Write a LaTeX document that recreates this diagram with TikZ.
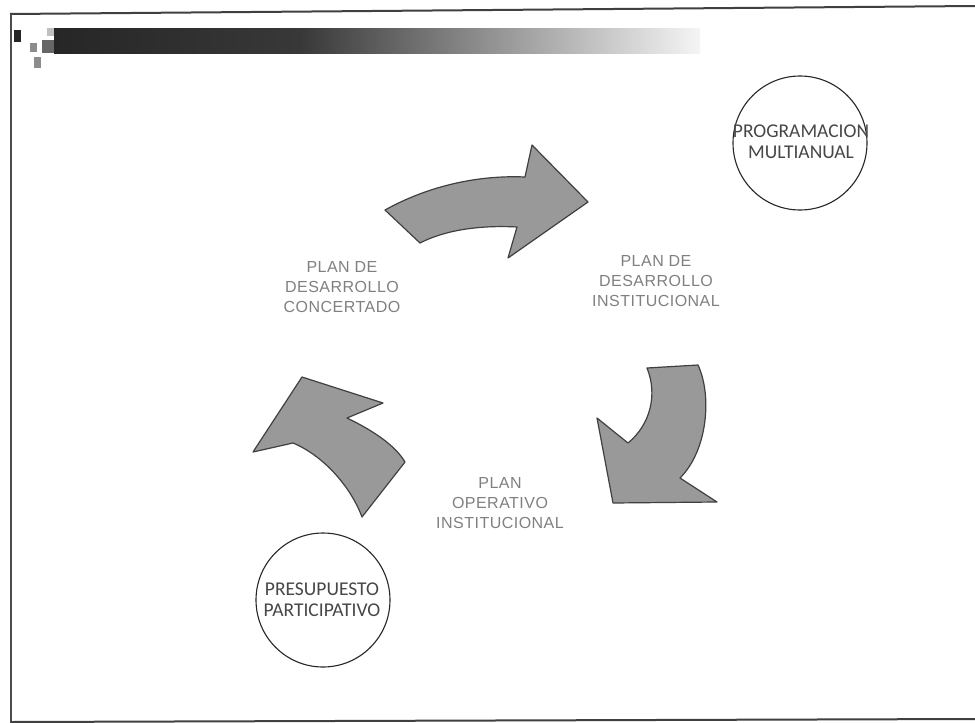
\documentclass[tikz,border=0pt]{standalone}
\usepackage{fontspec}
\setmainfont{Liberation Sans}
\newfontfamily\calfont{Carlito}
\newfontfamily\planfont[LetterSpace=3]{Liberation Sans}
\begin{document}
\begin{tikzpicture}[x=1pt,y=-1pt,
  framel/.style={draw=black!75, line width=2pt},
  cyclearrow/.style={fill=black!40, draw=black!75, line width=1.2pt, line join=round},
  plantext/.style={align=center, text=black!50, inner sep=0pt,
    font=\planfont\fontsize{16}{20}\selectfont},
  circnode/.style={circle, draw=black!85, line width=1.1pt, minimum size=134pt, inner sep=0pt},
  circtext/.style={align=center, text=black!72, inner sep=0pt,
    font=\calfont\fontsize{19.5}{21}\selectfont}
]
\useasboundingbox (0,0) rectangle (975,723);
\fill[white] (0,0) rectangle (975,723);
% frame
\draw[framel] (10,14) -- (975,6);
\draw[draw=black!70, line width=1.4pt] (11,14) -- (11,723);
\draw[framel] (11,722) -- (975,719);
% header decoration
\fill[black!85] (14,30) rectangle (21,42);
\fill[black!25] (47,28) rectangle (54,36);
\shade[left color=black!85, right color=black!78] (54,28) rectangle (300,53);
\shade[left color=black!78, right color=black!30] (300,28) rectangle (560,53);
\shade[left color=black!30, right color=black!4] (560,28) rectangle (700,53);
\fill[black!60] (42,40) rectangle (54,53);
\fill[black!45] (30,43) rectangle (37,52);
\fill[black!45] (34,57) rectangle (41,68);
% circles
\node[circnode] (prog) at (800,143) {};
\node[circtext] (progt) at (801,142) {PROGRAMACION\\MULTIANUAL};
\node[circnode] (pres) at (323,600) {};
\node[circtext] (prest) at (322,600) {PRESUPUESTO\\PARTICIPATIVO};
% texts
\node[plantext] (pdc) at (342,287) {PLAN DE\\DESARROLLO\\CONCERTADO};
\node[plantext] (pdi) at (656,281) {PLAN DE\\DESARROLLO\\INSTITUCIONAL};
\node[plantext] (poi) at (500,503) {PLAN\\OPERATIVO\\INSTITUCIONAL};
% arrows
\draw[cyclearrow] (385,210) .. controls (430,185) and (480,175) .. (525,177)
  -- (532,145) -- (588,202) -- (508,258) -- (517,227)
  .. controls (480,225) and (445,230) .. (420,243) -- cycle;
\draw[cyclearrow] (647,368) -- (698,365) .. controls (712,395) and (708,450) .. (680,478)
  -- (717,502) -- (613,503) -- (597,418) -- (628,443)
  .. controls (650,425) and (658,395) .. (647,368) -- cycle;
\draw[cyclearrow] (302,377) -- (383,403) -- (347,418)
  .. controls (372,430) and (395,445) .. (405,462) -- (362,517)
  .. controls (350,485) and (322,455) .. (293,443) -- (253,452) -- cycle;
\end{tikzpicture}
\end{document}
